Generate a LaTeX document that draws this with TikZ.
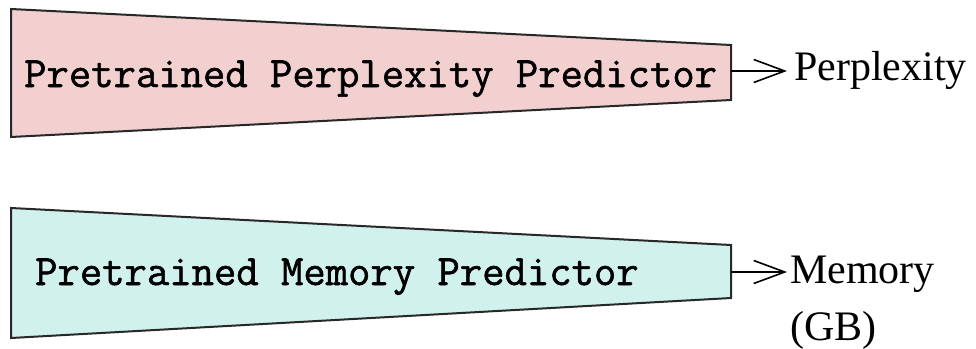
\documentclass[tikz,border=0pt]{standalone}
\usepackage{fontspec}
\setmainfont{Liberation Serif}
\newfontfamily\boxmono{Latin Modern Mono}[FakeBold=1.3]
\usetikzlibrary{arrows.meta}
\definecolor{pinkfill}{RGB}{243,208,208}
\definecolor{cyanfill}{RGB}{208,241,236}
\definecolor{edge}{RGB}{40,40,40}
\tikzset{
  funnel/.style={draw=edge, line width=2pt, line join=miter},
  monolabel/.style={inner sep=0pt, anchor=base west,
    font=\boxmono\fontsize{43.4}{50}\selectfont},
  outlabel/.style={inner sep=0pt, anchor=base west,
    font=\fontsize{42}{57}\selectfont, align=left},
  outarrow/.style={draw=black, line width=1.5pt,
    -{Straight Barb[length=31pt,width=23pt,line width=1.6pt]}}
}
\begin{document}
\begin{tikzpicture}[x=1pt,y=-1pt]
\useasboundingbox (0,0) rectangle (976,348);
% perplexity predictor funnel
\coordinate (pa) at (11,9);
\coordinate (pb) at (731,45);
\coordinate (pc) at (731,100);
\coordinate (pd) at (11,137);
\filldraw[funnel, fill=pinkfill] (pa) -- (pb) -- (pc) -- (pd) -- cycle;
\node[monolabel] (ptext) at (24,87) {Pretrained Perplexity Predictor};
\coordinate (pout) at (731,71);
\node[outlabel] (plabel) at (794,80) {Perplexity};
\coordinate (ptip) at (787,71);
\draw[outarrow] (pout) -- (ptip);
% memory predictor funnel
\coordinate (ma) at (11,208);
\coordinate (mb) at (731,245);
\coordinate (mc) at (731,298);
\coordinate (md) at (11,338);
\filldraw[funnel, fill=cyanfill] (ma) -- (mb) -- (mc) -- (md) -- cycle;
\node[monolabel] (mtext) at (35,285) {Pretrained Memory Predictor};
\coordinate (mout) at (731,272);
% the base anchor of a two-line node sits on its last line
\node[outlabel] (mlabel) at (790,340) {Memory\\(GB)};
\coordinate (mtip) at (787,272);
\draw[outarrow] (mout) -- (mtip);
\end{tikzpicture}
\end{document}
